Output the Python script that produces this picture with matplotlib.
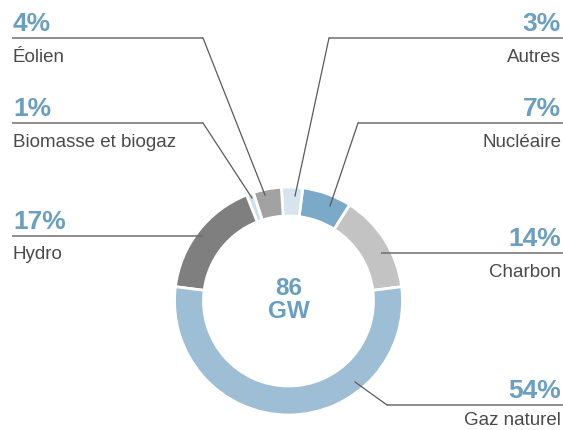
#Donut chart of installed capacity (86 GW) with leader-line labels
import matplotlib
matplotlib.use("Agg")
import matplotlib.pyplot as plt

plt.rcParams['font.family'] = ['Liberation Sans', 'DejaVu Sans']

# data, in drawing order (counter-clockwise from the right)
names = ["Charbon", "Nucléaire", "Autres", "Éolien", "Biomasse et biogaz", "Hydro", "Gaz naturel"]
shares = [14, 7, 3, 4, 1, 17, 54]
colors = ["#c3c3c3", "#7aaac7", "#d5e4ef", "#a2a2a2", "#cfe0ec", "#7f7f7f", "#9dbed5"]
total_label = "86\nGW"

W, H = 563, 430
pct_color = "#6b9fbf"
txt_color = "#4a4a4a"
line_color = "#5a5a5a"

fig = plt.figure(figsize=(W / 100, H / 100), dpi=100)
ax = fig.add_axes([0, 0, 1, 1])

cx, cy, R = 288.5, H - 301, 114
ax.pie(shares, colors=colors, startangle=7.2, counterclock=True,
       radius=R, center=(cx, cy),
       wedgeprops=dict(width=29, edgecolor="white", linewidth=2))

ax.set_xlim(0, W)
ax.set_ylim(0, H)
ax.set_aspect("equal")
ax.axis("off")

ax.text(cx, H - 300, total_label, ha="center", va="center", fontsize=17.5,
        fontweight="bold", color=pct_color, linespacing=1.05)

# label layout in pixel coords (y from top):
# side, line y, knee x, anchor point on the ring, name baseline below line
layout = {
    "Éolien": ("left", 38, 203, (265, 195), 24),
    "Biomasse et biogaz": ("left", 123, 203, (252, 198), 24),
    "Hydro": ("left", 236, 203, (203, 236), 23),
    "Autres": ("right", 38, 329, (295, 196), 24),
    "Nucléaire": ("right", 123, 358, (330, 206), 24),
    "Charbon": ("right", 253, 381, (381, 253), 24),
    "Gaz naturel": ("right", 405, 387, (355, 382), 20),
}

for name, share in zip(names, shares):
    side, ly, kx, (axp, ayp), dy = layout[name]
    if side == "left":
        xs = [12, kx, axp]
        tx, ha = 13, "left"
    else:
        xs = [W, kx, axp]
        tx, ha = 561, "right"
    ys = [H - ly, H - ly, H - ayp]
    ax.plot(xs[:2], ys[:2], color="#6e6e6e", lw=1.1, solid_capstyle="butt")
    ax.plot(xs[1:], ys[1:], color=line_color, lw=0.9)
    ax.text(tx, H - ly + 7, f"{share}%", ha=ha, va="baseline", fontsize=19,
            fontweight="bold", color=pct_color)
    ax.text(tx, H - ly - dy, name, ha=ha, va="baseline", fontsize=13.5,
            color=txt_color)

fig.savefig("out.png", dpi=100)
